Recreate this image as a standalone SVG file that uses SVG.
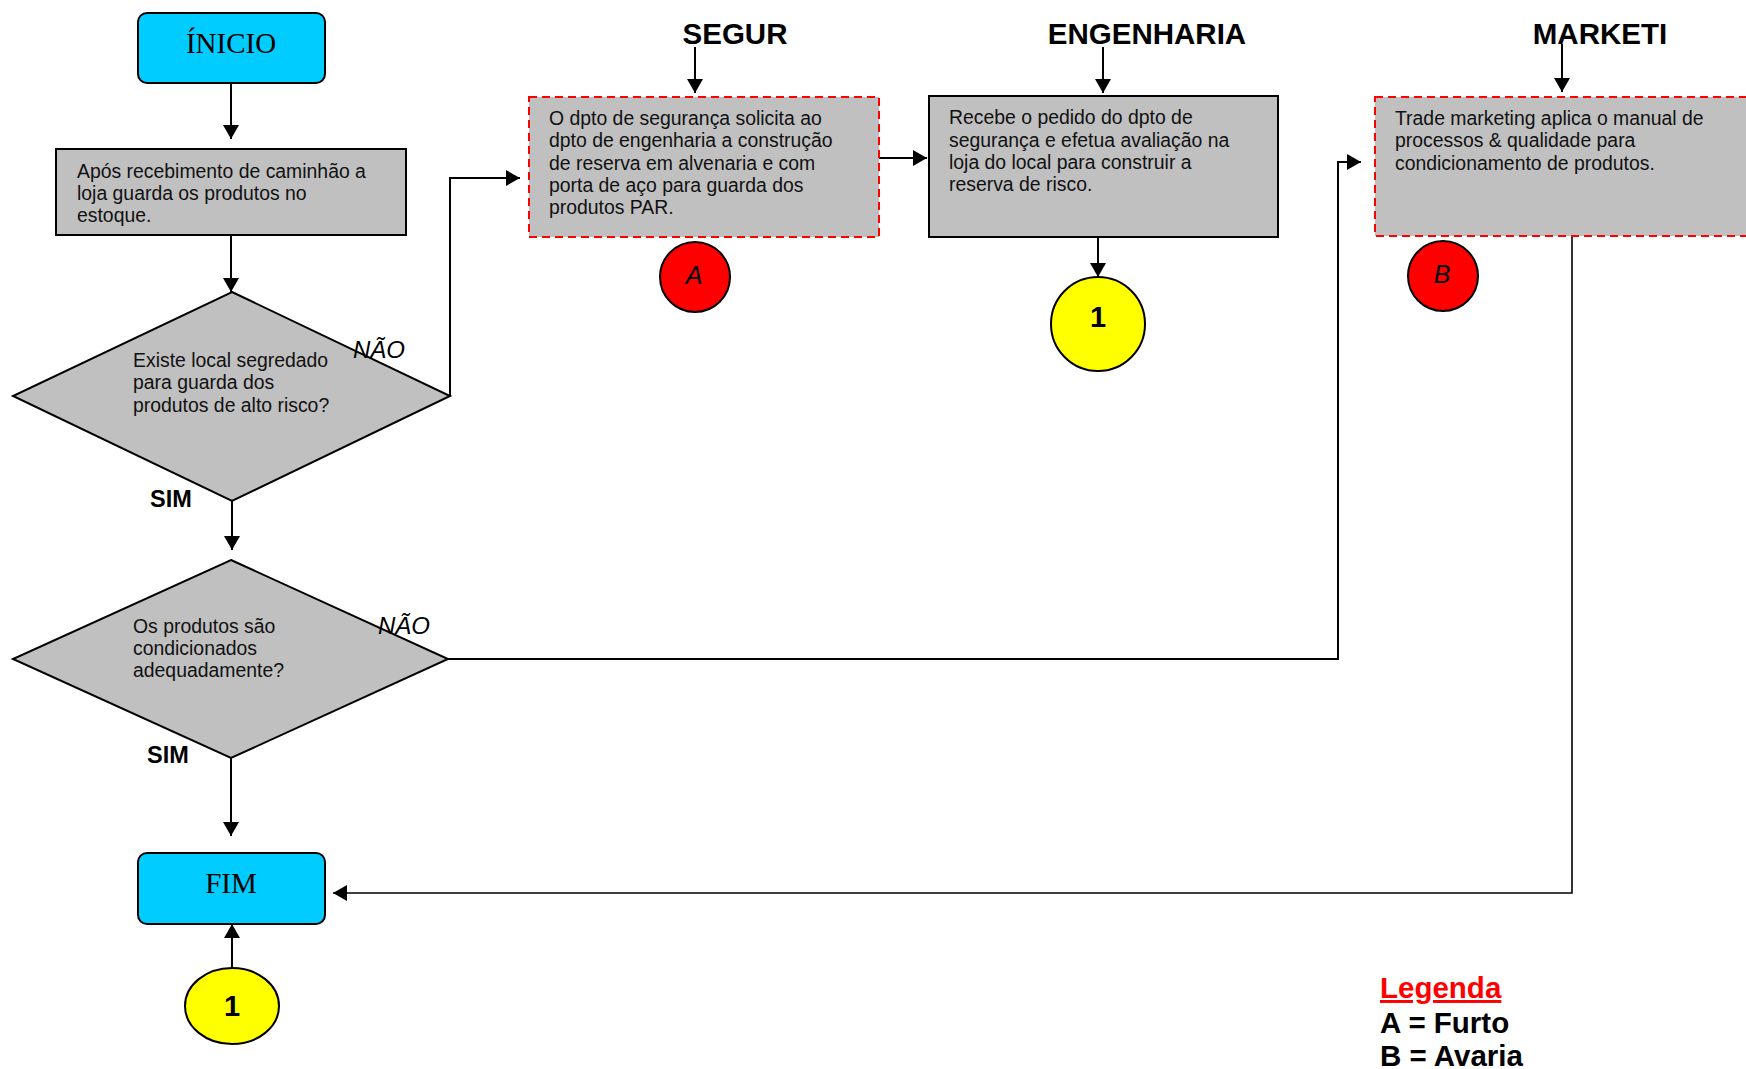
<svg xmlns="http://www.w3.org/2000/svg" width="1746" height="1069" viewBox="0 0 1746 1069">
  <style>
    .term { fill: #00CCFF; stroke: #000; stroke-width: 2; }
    .proc { fill: #C0C0C0; stroke: #000; stroke-width: 2; }
    .risk { fill: #C0C0C0; stroke: #FF0000; stroke-width: 2; stroke-dasharray: 8 5; }
    .dec { fill: #C0C0C0; stroke: #000; stroke-width: 2; }
    .red { fill: #FF0000; stroke: #000; stroke-width: 2; }
    .yel { fill: #FFFF00; stroke: #000; stroke-width: 2; }
    .body { font-family: "Liberation Sans", Arial, sans-serif; font-size: 19.4px; fill: #111; }
    .serif { font-family: "Liberation Serif", "Times New Roman", serif; font-size: 29px; fill: #000; }
    .head { font-family: "Liberation Sans", Arial, sans-serif; font-size: 29.5px; font-weight: bold; fill: #000; }
    .lbl { font-family: "Liberation Sans", Arial, sans-serif; font-size: 24px; font-style: italic; fill: #000; }
    .yes { font-family: "Liberation Sans", Arial, sans-serif; font-size: 23.5px; font-weight: bold; fill: #000; }
    .tag { font-family: "Liberation Sans", Arial, sans-serif; font-size: 25px; font-style: italic; fill: #000; }
    .num { font-family: "Liberation Sans", Arial, sans-serif; font-size: 29px; font-weight: bold; fill: #000; }
    .leg { font-family: "Liberation Sans", Arial, sans-serif; font-size: 29.5px; font-weight: bold; }
    .conn path { fill: none; stroke: #000; stroke-width: 2; }
    .conn path.thin { stroke-width: 1.6; }
  </style>
  <defs>
    <marker id="arrow" markerUnits="userSpaceOnUse" markerWidth="16" markerHeight="16" refX="14" refY="8" orient="auto">
      <path d="M0,0 L14,8 L0,16 z" fill="#000"/>
    </marker>
  </defs>

  <rect width="1746" height="1069" fill="#fff"/>

  <!-- lane headings -->
  <g id="lane-headings">
    <text class="head" x="735" y="44" text-anchor="middle">SEGUR</text>
    <text class="head" x="1147" y="44" text-anchor="middle">ENGENHARIA</text>
    <text class="head" x="1600" y="44" text-anchor="middle">MARKETI</text>
  </g>

  <!-- connectors -->
  <g id="connectors" class="conn">
    <path d="M231,83 V139" marker-end="url(#arrow)"/>
    <path d="M231,235 V292" marker-end="url(#arrow)"/>
    <path d="M450,396 V178 H520" marker-end="url(#arrow)"/>
    <path d="M232,501 V550" marker-end="url(#arrow)"/>
    <path d="M879,158 H927" marker-end="url(#arrow)"/>
    <path d="M695,47 V93" marker-end="url(#arrow)"/>
    <path d="M1103,47 V93" marker-end="url(#arrow)"/>
    <path d="M1562,44 V92" marker-end="url(#arrow)"/>
    <path d="M1098,232 V277" marker-end="url(#arrow)"/>
    <path d="M448,659 H1338 V162 H1361" marker-end="url(#arrow)"/>
    <path d="M231,758 V836" marker-end="url(#arrow)"/>
    <path class="thin" d="M1572,236 V893 H333" marker-end="url(#arrow)"/>
    <path d="M232,968 V924" marker-end="url(#arrow)"/>
  </g>

  <!-- start -->
  <g id="inicio">
    <rect class="term" x="138" y="13" width="187" height="70" rx="9"/>
    <text class="serif" x="231" y="53" text-anchor="middle">ÍNICIO</text>
  </g>

  <!-- storage step -->
  <g id="estoque">
    <rect class="proc" x="56" y="149" width="350" height="86"/>
    <text class="body" x="77" y="178">Após recebimento de caminhão a<tspan x="77" y="200">loja guarda os produtos no</tspan><tspan x="77" y="222">estoque.</tspan></text>
  </g>

  <!-- decision 1 -->
  <g id="decisao-local">
    <polygon class="dec" points="232,292 450,396 232,501 13,396"/>
    <text class="body" x="133" y="367">Existe local segredado<tspan x="133" y="389">para guarda dos</tspan><tspan x="133" y="412">produtos de alto risco?</tspan></text>
    <text class="lbl" x="353" y="358">NÃO</text>
    <text class="yes" x="150" y="507">SIM</text>
  </g>

  <!-- security request -->
  <g id="seguranca">
    <rect class="risk" x="529" y="97" width="350" height="140"/>
    <text class="body" x="549" y="125">O dpto de segurança solicita ao<tspan x="549" y="147">dpto de engenharia a construção</tspan><tspan x="549" y="170">de reserva em alvenaria e com</tspan><tspan x="549" y="192">porta de aço para guarda dos</tspan><tspan x="549" y="214">produtos PAR.</tspan></text>
  </g>
  <g id="risco-a">
    <circle class="red" cx="695" cy="277" r="35"/>
    <text class="tag" x="694" y="284" text-anchor="middle">A</text>
  </g>

  <!-- engineering -->
  <g id="engenharia">
    <rect class="proc" x="929" y="96" width="349" height="141"/>
    <text class="body" x="949" y="124">Recebe o pedido do dpto de<tspan x="949" y="147">segurança e efetua avaliação na</tspan><tspan x="949" y="169">loja do local para construir a</tspan><tspan x="949" y="191">reserva de risco.</tspan></text>
  </g>
  <g id="conector-1-eng">
    <circle class="yel" cx="1098" cy="324" r="47"/>
    <text class="num" x="1098" y="327" text-anchor="middle">1</text>
  </g>

  <!-- trade marketing -->
  <g id="marketing">
    <rect class="risk" x="1375" y="97" width="390" height="139"/>
    <text class="body" x="1395" y="125">Trade marketing aplica o manual de<tspan x="1395" y="147">processos &amp; qualidade para</tspan><tspan x="1395" y="170">condicionamento de produtos.</tspan></text>
  </g>
  <g id="risco-b">
    <circle class="red" cx="1443" cy="276" r="35"/>
    <text class="tag" x="1442" y="283" text-anchor="middle">B</text>
  </g>

  <!-- decision 2 -->
  <g id="decisao-condicionamento">
    <polygon class="dec" points="231,560 448,659 231,758 13,659"/>
    <text class="body" x="133" y="633">Os produtos são<tspan x="133" y="655">condicionados</tspan><tspan x="133" y="677">adequadamente?</tspan></text>
    <text class="lbl" x="378" y="634">NÃO</text>
    <text class="yes" x="147" y="763">SIM</text>
  </g>

  <!-- end -->
  <g id="fim">
    <rect class="term" x="138" y="853" width="187" height="71" rx="9"/>
    <text class="serif" x="231" y="893" text-anchor="middle">FIM</text>
  </g>
  <g id="conector-1-fim">
    <ellipse class="yel" cx="232" cy="1006" rx="47" ry="38"/>
    <text class="num" x="232" y="1016" text-anchor="middle">1</text>
  </g>

  <!-- legend -->
  <g id="legenda">
    <text class="leg" x="1380" y="998" fill="#FF0000" text-decoration="underline">Legenda</text>
    <text class="leg" x="1380" y="1033" fill="#000">A = Furto</text>
    <text class="leg" x="1380" y="1066" fill="#000">B = Avaria</text>
  </g>
</svg>
